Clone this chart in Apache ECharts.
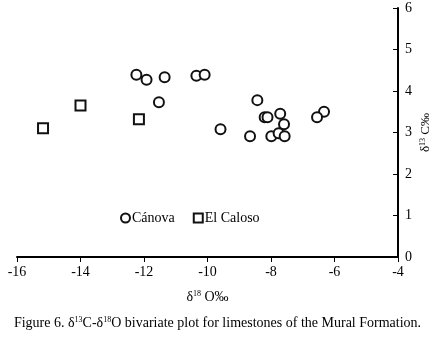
<!DOCTYPE html>
<html>
<head>
<meta charset="utf-8">
<script src="https://cdn.jsdelivr.net/npm/echarts@6/dist/echarts.min.js"></script>
<style>
  html, body { margin: 0; padding: 0; background: #fff; }
  #main { width: 435px; height: 337px; }
</style>
</head>
<body>
<div id="main"></div>
<script>
// δ18O, δ13C pairs
var canova = [
  [-12.24, 4.39], [-11.92, 4.27], [-11.35, 4.33], [-10.35, 4.37], [-10.09, 4.39],
  [-11.53, 3.73], [-8.43, 3.78], [-8.2, 3.37], [-8.11, 3.37], [-7.71, 3.45],
  [-7.59, 3.2], [-9.59, 3.08], [-8.66, 2.91], [-7.99, 2.91], [-7.76, 2.98],
  [-7.57, 2.91], [-6.33, 3.5], [-6.55, 3.37]
];
var elCaloso = [
  [-15.18, 3.1], [-14.0, 3.65], [-12.16, 3.32]
];
var xTicks = [-16, -14, -12, -10, -8, -6, -4];
var yTicks = [0, 1, 2, 3, 4, 5, 6];

var font = 'Liberation Serif';
var myChart = echarts.init(document.getElementById('main'));

// plain text + superscript styles, reused for the titles
function richStyle(size) {
  return {
    n: { fontFamily: font, fontSize: size, fontWeight: 'normal', color: '#000' },
    s: { fontFamily: font, fontSize: 8, fontWeight: 'normal', color: '#000', verticalAlign: 'top', padding: [0, 0, 6, 0] }
  };
}

var option = {
  backgroundColor: '#fff',
  animation: false,
  textStyle: { fontFamily: font, color: '#000' },
  title: {
    text: '{n|Figure 6. δ}{s|13}{n|C-δ}{s|18}{n|O bivariate plot for limestones of the Mural Formation.}',
    left: 'center',
    bottom: 2,
    textStyle: { fontWeight: 'normal', rich: richStyle(14) }
  },
  legend: {
    left: 115,
    top: 206,
    itemGap: 18,
    itemWidth: 9,
    itemHeight: 9,
    textStyle: { fontFamily: font, fontSize: 14, color: '#000', padding: [0, 0, 0, -3] },
    data: [
      { name: 'Cánova', icon: 'circle' },
      { name: 'El Caloso', icon: 'rect' }
    ]
  },
  grid: { left: 17, right: 37, top: 8, bottom: 80, outerBoundsMode: 'none', containLabel: false },
  xAxis: {
    type: 'value',
    min: xTicks[0],
    max: xTicks[xTicks.length - 1],
    interval: 2,
    name: '{n|δ}{s|18}{n| O‰}',
    nameLocation: 'middle',
    nameMoveOverlap: false,
    nameGap: 33,
    nameTextStyle: { rich: richStyle(14) },
    axisLine: { onZero: false, lineStyle: { color: '#000', width: 2 } },
    axisTick: { show: true, length: 5, lineStyle: { color: '#000', width: 1 } },
    axisLabel: { fontFamily: font, fontSize: 14, color: '#000', margin: 8 },
    splitLine: { show: false }
  },
  yAxis: {
    type: 'value',
    position: 'right',
    min: yTicks[0],
    max: yTicks[yTicks.length - 1],
    interval: 1,
    name: '{n|δ}{s|13}{n| C‰}',
    nameLocation: 'middle',
    nameMoveOverlap: false,
    nameRotate: 90,
    nameGap: 21,
    nameTextStyle: { rich: richStyle(13) },
    axisLine: { show: true, onZero: false, lineStyle: { color: '#000', width: 2 } },
    axisTick: { show: true, inside: true, length: 5, lineStyle: { color: '#000', width: 1 } },
    axisLabel: { fontFamily: font, fontSize: 14, color: '#000', margin: 7 },
    splitLine: { show: false }
  },
  series: [
    {
      name: 'Cánova',
      type: 'scatter',
      symbol: 'circle',
      symbolSize: 10,
      itemStyle: { color: '#fff', borderColor: '#111', borderWidth: 2, opacity: 1 },
      data: canova
    },
    {
      name: 'El Caloso',
      type: 'scatter',
      symbol: 'rect',
      symbolSize: 10,
      itemStyle: { color: '#fff', borderColor: '#111', borderWidth: 2, opacity: 1 },
      data: elCaloso
    }
  ]
};

myChart.setOption(option);
</script>
</body>
</html>
